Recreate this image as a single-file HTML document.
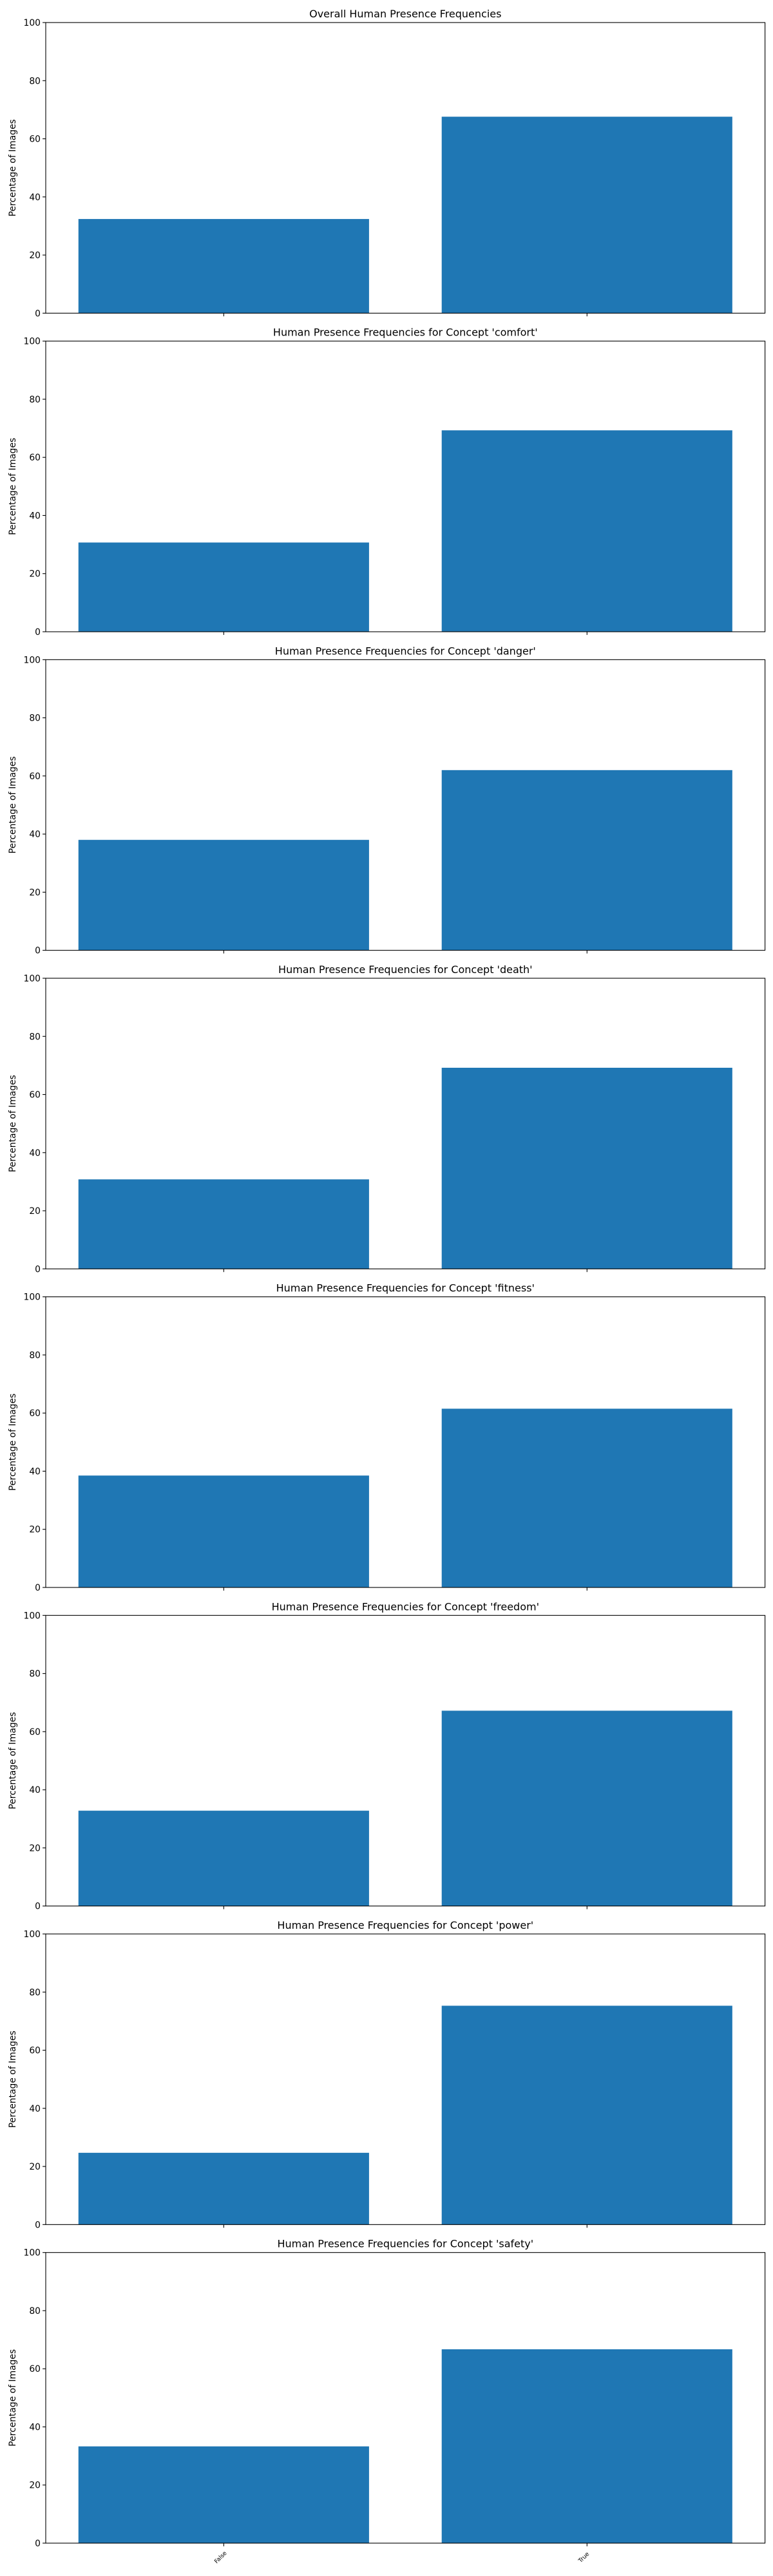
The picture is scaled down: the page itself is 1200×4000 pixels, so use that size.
<!DOCTYPE html>
<html><head><meta charset="utf-8">
<style>
html,body{margin:0;padding:0;background:#fff;}
svg{display:block;font-family:"DejaVu Sans","Liberation Sans",sans-serif;}
</style></head>
<body>
<svg id="chart" width="1200" height="4000" viewBox="0 0 1200 4000" xmlns="http://www.w3.org/2000/svg"></svg>
<script>
const titles = ["Overall Human Presence Frequencies","Human Presence Frequencies for Concept 'comfort'","Human Presence Frequencies for Concept 'danger'","Human Presence Frequencies for Concept 'death'","Human Presence Frequencies for Concept 'fitness'","Human Presence Frequencies for Concept 'freedom'","Human Presence Frequencies for Concept 'power'","Human Presence Frequencies for Concept 'safety'"];
const panelNames = ["overall","comfort","danger","death","fitness","freedom","power","safety"];
const categories = ["False","True"];
const falseValues = [32.4,30.7,38.0,30.8,38.5,32.8,24.7,33.3];
const trueValues = [67.6,69.3,62.0,69.2,61.5,67.2,75.3,66.7];
const yTicks = [0,20,40,60,80,100];

const NS = "http://www.w3.org/2000/svg";
const svg = document.getElementById('chart');
const L = 71, R = 1187.6, H = 451.3, TOP0 = 35, PITCH = 494.67;
const xMin = -0.49, xMax = 1.49;
function xs(v){ return L + (v - xMin) / (xMax - xMin) * (R - L); }
function mk(tag, attrs, parent){ const e = document.createElementNS(NS, tag); for (const k in attrs) e.setAttribute(k, attrs[k]); (parent||svg).appendChild(e); return e; }

for (let p = 0; p < titles.length; p++) {
  const top = TOP0 + p * PITCH, bot = top + H;
  const ys = v => bot - v / 100 * H;
  const g = mk('g', {});
  
  
  const vals = [falseValues[p], trueValues[p]];
  for (let i = 0; i < categories.length; i++) {
    const x0 = xs(i - 0.4), x1 = xs(i + 0.4);
    const b = mk('rect', {x: x0, y: ys(vals[i]), width: x1 - x0, height: bot - ys(vals[i]), fill: '#1f77b4'}, g);
    
    
    mk('line', {x1: xs(i), x2: xs(i), y1: bot, y2: bot + 4.9, stroke: '#000', 'stroke-width': 1.1}, g);
    if (p === titles.length - 1) {
      const t = mk('text', {x: 0, y: 0, 'font-size': 9, 'text-anchor': 'middle', transform: 'translate(' + (xs(i) - 3) + ',' + (bot + 24) + ') rotate(-45)'}, g);
      t.textContent = categories[i];
      
      
    }
  }
  for (const tv of yTicks) {
    mk('line', {x1: L - 4.9, x2: L, y1: ys(tv), y2: ys(tv), stroke: '#000', 'stroke-width': 1.1}, g);
    const t = mk('text', {x: L - 8, y: ys(tv) + 5, 'font-size': 13.9, 'text-anchor': 'end', fill: '#000'}, g);
    t.textContent = tv;
    
    
  }
  const frame = mk('rect', {x: L, y: top, width: R - L, height: H, fill: 'none', stroke: '#000', 'stroke-width': 1.1}, g);
  
  
  const yl = mk('text', {x: 0, y: 0, 'font-size': 13.9, 'text-anchor': 'middle', transform: 'translate(24,' + (top + H / 2) + ') rotate(-90)'}, g);
  yl.textContent = 'Percentage of Images';
  
  
  const tt = mk('text', {x: (L + R) / 2, y: top - 8, 'font-size': 16, 'text-anchor': 'middle'}, g);
  tt.textContent = titles[p];
  
  
}
</script>
</body></html>
